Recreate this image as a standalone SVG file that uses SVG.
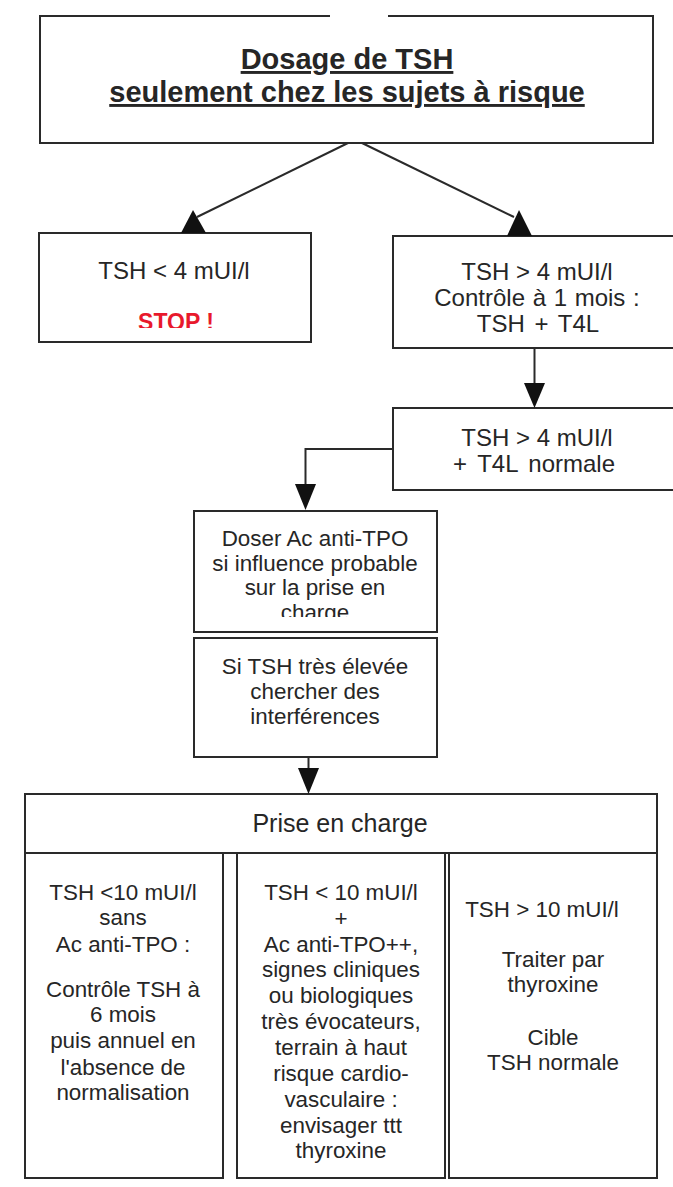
<svg xmlns="http://www.w3.org/2000/svg" width="673" height="1187" viewBox="0 0 673 1187">
<style>
  .box { fill: #ffffff; stroke: #2a2a2a; stroke-width: 2; }
  .t { font-family: "Liberation Sans", Arial, sans-serif; fill: #262626; text-anchor: middle; }
  .b22 { font-size: 22.4px; }
  .b24 { font-size: 24px; }
  .b25 { font-size: 25px; }
  .title { font-size: 29px; font-weight: bold; text-decoration: underline; }
  .stop { font-size: 23px; font-weight: bold; fill: #e8192c; }
  .line { fill: none; stroke: #2a2a2a; stroke-width: 2; }
  .head { fill: #111111; }
</style>
<defs>
  <clipPath id="clipStop"><rect x="40" y="234" width="270" height="94"/></clipPath>
  <clipPath id="clipDoser"><rect x="195" y="512" width="241" height="105"/></clipPath>
</defs>
<rect width="673" height="1187" fill="#ffffff"/>

<g id="n-dosage">
  <path class="box" d="M330,16 H40 V143 H653 V16 H388"/>
  <text class="t title" x="347" y="69">Dosage de TSH</text>
  <text class="t title" x="347" y="102">seulement chez les sujets à risque</text>
</g>

<g id="n-tsh-inf4">
  <rect class="box" x="39" y="233" width="272" height="109"/>
  <text class="t b24" x="174" y="279">TSH &lt; 4 mUI/l</text>
  <g clip-path="url(#clipStop)">
    <text class="t stop" x="176" y="330">STOP !</text>
  </g>
</g>

<g id="n-tsh-sup4">
  <path class="box" d="M675,236 H393 V348 H675"/>
  <text class="t b24" x="537" y="280">TSH &gt; 4 mUI/l</text>
  <text class="t b24" x="537" y="306" word-spacing="1">Contrôle à 1 mois :</text>
  <text class="t b24" x="538" y="332" word-spacing="3">TSH + T4L</text>
</g>

<g id="n-t4l-normale">
  <path class="box" d="M675,408 H393 V490 H675"/>
  <text class="t b24" x="537" y="446">TSH &gt; 4 mUI/l</text>
  <text class="t b24" x="534" y="472" word-spacing="4">+ T4L normale</text>
</g>

<g id="n-doser">
  <rect class="box" x="194" y="511" width="243" height="121"/>
  <g clip-path="url(#clipDoser)">
    <text class="t b22" x="315" y="546">Doser Ac anti-TPO</text>
    <text class="t b22" x="315" y="571">si influence probable</text>
    <text class="t b22" x="315" y="595">sur la prise en</text>
    <text class="t b22" x="315" y="620">charge</text>
  </g>
</g>

<g id="n-interferences">
  <rect class="box" x="194" y="638" width="243" height="119"/>
  <text class="t b22" x="315" y="674">Si TSH très élevée</text>
  <text class="t b22" x="315" y="699">chercher des</text>
  <text class="t b22" x="315" y="724">interférences</text>
</g>

<g id="n-prise">
  <rect class="box" x="25" y="794" width="632" height="59"/>
  <text class="t b25" x="340" y="832">Prise en charge</text>
</g>

<g id="n-col1">
  <rect class="box" x="25" y="853" width="198" height="325"/>
  <text class="t b22" x="123" y="900">TSH &lt;10 mUI/l</text>
  <text class="t b22" x="123" y="925">sans</text>
  <text class="t b22" x="123" y="952">Ac anti-TPO :</text>
  <text class="t b22" x="123" y="997">Contrôle TSH à</text>
  <text class="t b22" x="123" y="1022">6 mois</text>
  <text class="t b22" x="123" y="1048">puis annuel en</text>
  <text class="t b22" x="123" y="1075">l'absence de</text>
  <text class="t b22" x="123" y="1100">normalisation</text>
</g>

<g id="n-col2">
  <rect class="box" x="237" y="853" width="208" height="325"/>
  <text class="t b22" x="341" y="900">TSH &lt; 10 mUI/l</text>
  <text class="t b22" x="341" y="926">+</text>
  <text class="t b22" x="341" y="952">Ac anti-TPO++,</text>
  <text class="t b22" x="341" y="977">signes cliniques</text>
  <text class="t b22" x="341" y="1003">ou biologiques</text>
  <text class="t b22" x="341" y="1029">très évocateurs,</text>
  <text class="t b22" x="341" y="1055">terrain à haut</text>
  <text class="t b22" x="341" y="1081">risque cardio-</text>
  <text class="t b22" x="341" y="1107">vasculaire :</text>
  <text class="t b22" x="341" y="1133">envisager ttt</text>
  <text class="t b22" x="341" y="1158">thyroxine</text>
</g>

<g id="n-col3">
  <rect class="box" x="449" y="853" width="208" height="325"/>
  <text class="t b22" x="542" y="917">TSH &gt; 10 mUI/l</text>
  <text class="t b22" x="553" y="967">Traiter par</text>
  <text class="t b22" x="553" y="992">thyroxine</text>
  <text class="t b22" x="553" y="1045">Cible</text>
  <text class="t b22" x="553" y="1070">TSH normale</text>
</g>

<g id="connectors">
  <line class="line" x1="348" y1="143" x2="197" y2="217"/>
  <polygon class="head" points="193,210 181,233 206,233"/>
  <line class="line" x1="362" y1="143" x2="514" y2="217"/>
  <polygon class="head" points="519,210 507,236 532,236"/>
  <line class="line" x1="534.5" y1="348" x2="534.5" y2="384"/>
  <polygon class="head" points="524,383 545,383 534.5,408"/>
  <polyline class="line" points="393,449 305.5,449 305.5,485"/>
  <polygon class="head" points="295,484 316,484 305.5,510"/>
  <line class="line" x1="308.5" y1="757" x2="308.5" y2="769"/>
  <polygon class="head" points="298,768 319,768 308.5,794"/>
</g>
</svg>
